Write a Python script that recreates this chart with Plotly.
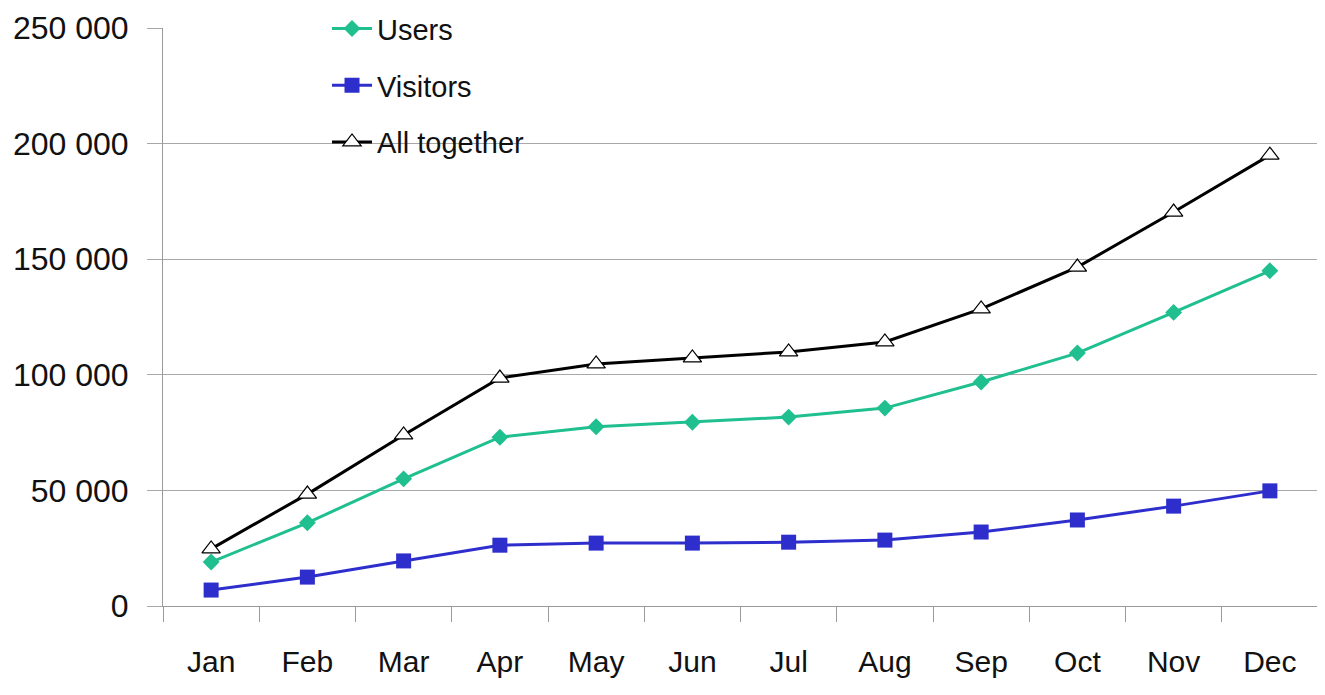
import plotly.graph_objects as go

months = ["Jan", "Feb", "Mar", "Apr", "May", "Jun", "Jul", "Aug", "Sep", "Oct", "Nov", "Dec"]
users = [19000, 36000, 55000, 73000, 77500, 79500, 81700, 85600, 96900, 109400, 127000, 145000]
visitors = [6900, 12500, 19500, 26300, 27200, 27200, 27600, 28500, 32000, 37200, 43200, 49800]
all_together = [24700, 48400, 74000, 98600, 104700, 107300, 109900, 114200, 128500, 146600, 170400, 195000]
y_ticks = [0, 50000, 100000, 150000, 200000, 250000]
y_tick_text = ["0", "50 000", "100 000", "150 000", "200 000", "250 000"]

fig = go.Figure()
fig.add_trace(go.Scatter(
    x=months, y=users, name="Users", mode="lines+markers", legendgroup="u",
    line=dict(color="#1FBF8F", width=3),
    marker=dict(symbol="diamond", size=13, color="#1FBF8F"),
))
fig.add_trace(go.Scatter(
    x=months, y=visitors, name="Visitors", mode="lines+markers", legendgroup="v",
    line=dict(color="#2E2ECC", width=3),
    marker=dict(symbol="square", size=15, color="#2E2ECC"),
))
fig.add_trace(go.Scatter(
    x=months, y=all_together, name="All together", mode="lines+markers", legendgroup="a",
    line=dict(color="#000000", width=3),
    marker=dict(symbol="triangle-up", size=16, color="white", line=dict(color="#000000", width=1.2)),
))

fig.update_layout(
    width=1325, height=695,
    margin=dict(l=155, r=15, t=20, b=97, autoexpand=False),
    paper_bgcolor="white", plot_bgcolor="white",
    font=dict(family="Liberation Sans, Arial, sans-serif", size=30, color="#111111"),
    showlegend=True,
    legend=dict(
        x=0.142, y=1.043, xanchor="left", yanchor="top",
        font=dict(size=29, color="#111111"),
        bgcolor="rgba(0,0,0,0)", tracegroupgap=16,
        itemwidth=40,
    ),
    xaxis=dict(
        type="category", range=[-0.5, 11.5], automargin=False,
        showgrid=False, showline=True, linecolor="#9a9a9a", linewidth=1,
        ticks="outside", tickson="boundaries", ticklen=15, tickcolor="#9a9a9a",
        tickfont=dict(size=30), ticklabelstandoff=29, fixedrange=True,
    ),
    yaxis=dict(
        range=[0, 250000], tickvals=y_ticks, ticktext=y_tick_text, automargin=False,
        showgrid=True, gridcolor="#a8a8a8", gridwidth=1,
        showline=True, linecolor="#9a9a9a", linewidth=1,
        ticks="outside", ticklen=15, tickcolor="#a8a8a8",
        tickfont=dict(size=32), ticklabelstandoff=12, zeroline=False, fixedrange=True,
    ),
)

fig.write_html("out.html")
